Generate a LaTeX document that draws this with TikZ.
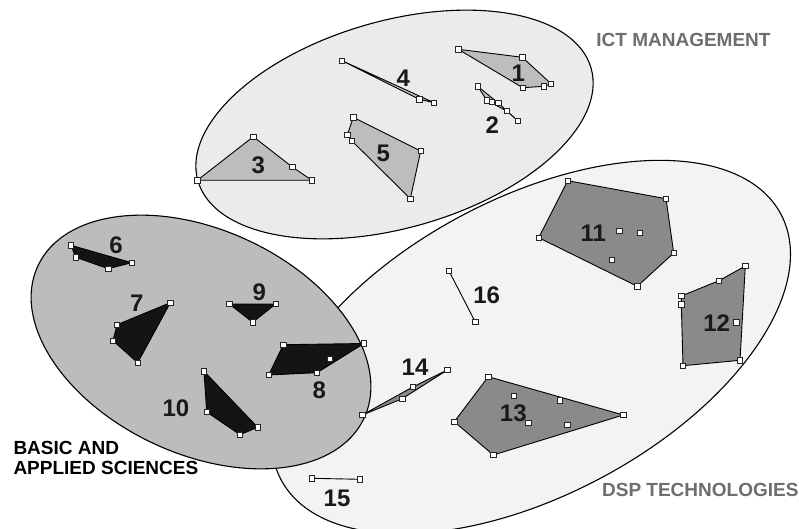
\documentclass[tikz,border=0pt]{standalone}
\usepackage{fontspec}
\setmainfont{Liberation Sans}
\definecolor{ictfill}{HTML}{EBEBEB}
\definecolor{dspfill}{HTML}{F3F3F3}
\definecolor{basfill}{HTML}{BBBCBE}
\definecolor{ictpoly}{HTML}{BDBDBD}
\definecolor{dsppoly}{HTML}{8A8A8A}
\definecolor{baspoly}{HTML}{141414}
\definecolor{capgray}{HTML}{6E6E6E}
\tikzset{
  region/.style={draw=black, line width=1.1pt},
  hull/.style={draw=black, line width=0.9pt, line join=round},
  vtx/.style={rectangle, draw=black!85, fill=white, line width=0.7pt,
              minimum size=5.5pt, inner sep=0pt},
  num/.style={font=\fontsize{24}{24}\selectfont\bfseries, inner sep=0pt, text=black!90},
  clustername/.style={font=\fontsize{19}{20.5}\selectfont\bfseries, inner sep=0pt, align=left}
}
\begin{document}
\begin{tikzpicture}[x=1pt, y=-1pt]
\path[use as bounding box] (0,0) rectangle (799,529);
\fill[white] (0,0) rectangle (799,529);
\clip (0,0) rectangle (799,529);

% ---- three clusters ----
\draw[region, fill=dspfill, rotate around={28:(531,347)}]
  (531,347) ellipse [x radius=283pt, y radius=148.5pt];
\draw[region, fill=ictfill, rotate around={16:(394.5,124.5)}]
  (394.5,124.5) ellipse [x radius=204.5pt, y radius=103.5pt];
\draw[region, fill=basfill, rotate around={-25:(201,342)}]
  (201,342) ellipse [x radius=180pt, y radius=112pt];

% ---- vertices ----
\coordinate (p1a) at (458.3,49.3);  \coordinate (p1b) at (522.3,57.3);
\coordinate (p1c) at (551,83.7);    \coordinate (p1d) at (544,86.3);
\coordinate (p1e) at (522.7,87.7);
\coordinate (p2a) at (477.7,86.3);  \coordinate (p2b) at (486.7,100.3);
\coordinate (p2c) at (491.7,101.7); \coordinate (p2d) at (498.3,103);
\coordinate (p2e) at (506.7,111);   \coordinate (p2f) at (517.7,120.7);
\coordinate (p3a) at (197.3,180.3); \coordinate (p3b) at (253.3,136.7);
\coordinate (p3c) at (292.3,167);   \coordinate (p3d) at (312,180.3);
\coordinate (p4a) at (342,60.7);    \coordinate (p4b) at (419.3,99.3);
\coordinate (p4c) at (434,102.7);
\coordinate (p5a) at (353.3,117.3); \coordinate (p5b) at (420.7,151);
\coordinate (p5c) at (410.3,198.7); \coordinate (p5d) at (352,141);
\coordinate (p5e) at (347.3,135);
\coordinate (p6a) at (71,245.3);    \coordinate (p6b) at (131.7,262.7);
\coordinate (p6c) at (108.3,268.7); \coordinate (p6d) at (75.7,257.3);
\coordinate (p7a) at (170.3,302.7); \coordinate (p7b) at (137.7,362.7);
\coordinate (p7c) at (113,340.7);   \coordinate (p7d) at (117,324.7);
\coordinate (p8a) at (283.3,344.7); \coordinate (p8b) at (364,343.5);
\coordinate (p8c) at (317,372.7);   \coordinate (p8d) at (268.7,375);
\coordinate (p8e) at (330,359);
\coordinate (p9a) at (229.3,304);   \coordinate (p9b) at (275.7,304);
\coordinate (p9c) at (252.7,322.3);
\coordinate (p10a) at (204,371.3);  \coordinate (p10b) at (257.7,427.3);
\coordinate (p10c) at (240,434.7);  \coordinate (p10d) at (206.7,412);
\coordinate (p11a) at (567.7,180.7); \coordinate (p11b) at (666,198.7);
\coordinate (p11c) at (673.7,253);   \coordinate (p11d) at (637.3,286.3);
\coordinate (p11e) at (538.7,237.7); \coordinate (p11f) at (619.3,231);
\coordinate (p11g) at (640,232.7);   \coordinate (p11h) at (612,260);
\coordinate (p12a) at (745.3,266);   \coordinate (p12b) at (740,360.3);
\coordinate (p12c) at (683,365.7);   \coordinate (p12d) at (681.3,304.3);
\coordinate (p12e) at (681.3,296);   \coordinate (p12f) at (719,280.7);
\coordinate (p12g) at (736.3,322.3);
\coordinate (p13a) at (488.3,376.7); \coordinate (p13b) at (623.3,415);
\coordinate (p13c) at (493.3,455);   \coordinate (p13d) at (454.3,421.7);
\coordinate (p13e) at (513.7,395.7); \coordinate (p13f) at (559.7,400.3);
\coordinate (p13g) at (528.3,423);   \coordinate (p13h) at (567.3,424.7);
\coordinate (p14a) at (362.3,415);   \coordinate (p14b) at (412.7,387);
\coordinate (p14c) at (447.3,370);   \coordinate (p14d) at (402.3,398.7);
\coordinate (p15a) at (311.7,478.3); \coordinate (p15b) at (360,479.3);
\coordinate (p16a) at (449,271);     \coordinate (p16b) at (475.3,322);

% ---- convex hulls ----
\filldraw[hull, fill=ictpoly] (p1a) -- (p1b) -- (p1c) -- (p1d) -- (p1e) -- cycle;
\filldraw[hull, fill=ictpoly] (p2a) -- (p2d) -- (p2f) -- (p2e) -- (p2b) -- cycle;
\filldraw[hull, fill=ictpoly] (p3a) -- (p3b) -- (p3c) -- (p3d) -- cycle;
\filldraw[hull, fill=ictpoly] (p4a) -- (p4c) -- (p4b) -- cycle;
\filldraw[hull, fill=ictpoly] (p5a) -- (p5b) -- (p5c) -- (p5d) -- (p5e) -- cycle;
\filldraw[hull, fill=baspoly] (p6a) -- (p6b) -- (p6c) -- (p6d) -- cycle;
\filldraw[hull, fill=baspoly] (p7a) -- (p7b) -- (p7c) -- (p7d) -- cycle;
\filldraw[hull, fill=baspoly] (p8a) -- (p8b) -- (p8c) -- (p8d) -- cycle;
\filldraw[hull, fill=baspoly] (p9a) -- (p9b) -- (p9c) -- cycle;
\filldraw[hull, fill=baspoly] (p10a) -- (p10b) -- (p10c) -- (p10d) -- cycle;
\filldraw[hull, fill=dsppoly] (p11a) -- (p11b) -- (p11c) -- (p11d) -- (p11e) -- cycle;
\filldraw[hull, fill=dsppoly] (p12a) -- (p12b) -- (p12c) -- (p12d) -- (p12e) -- (p12f) -- cycle;
\filldraw[hull, fill=dsppoly] (p13a) -- (p13b) -- (p13c) -- (p13d) -- cycle;
\filldraw[hull, fill=dsppoly] (p14a) -- (p14b) -- (p14c) -- (p14d) -- cycle;
\draw[hull] (p15a) -- (p15b);
\draw[hull] (p16a) -- (p16b);

% ---- vertex markers ----
\foreach \p in {p1a,p1b,p1c,p1d,p1e,p2a,p2b,p2c,p2d,p2e,p2f,
                p3a,p3b,p3c,p3d,p4a,p4b,p4c,p5a,p5b,p5c,p5d,p5e,
                p6a,p6b,p6c,p6d,p7a,p7b,p7c,p7d,p8a,p8b,p8c,p8d,p8e,
                p9a,p9b,p9c,p10a,p10b,p10c,p10d,
                p11a,p11b,p11c,p11d,p11e,p11f,p11g,p11h,
                p12a,p12b,p12c,p12d,p12e,p12f,p12g,
                p13a,p13b,p13c,p13d,p13e,p13f,p13g,p13h,
                p14a,p14b,p14c,p14d,p15a,p15b,p16a,p16b}
  \node[vtx] (v\p) at (\p) {};

% ---- cluster numbers ----
\node[num] (l1)  at (518.3,73.3)  {1};
\node[num] (l2)  at (492.3,125)   {2};
\node[num] (l3)  at (258.3,165)   {3};
\node[num] (l4)  at (403.3,78.3)  {4};
\node[num] (l5)  at (383.3,153.3) {5};
\node[num] (l6)  at (116,245)     {6};
\node[num] (l7)  at (136.7,303.3) {7};
\node[num] (l8)  at (319.3,390)   {8};
\node[num] (l9)  at (259.3,292.3) {9};
\node[num] (l10) at (176,408.7)   {10};
\node[num] (l11) at (593.3,233.3) {11};
\node[num] (l12) at (716.7,323.3) {12};
\node[num] (l13) at (513.3,413.3) {13};
\node[num] (l14) at (415,367.3)   {14};
\node[num] (l15) at (337,498)     {15};
\node[num] (l16) at (486.7,295)   {16};

% ---- cluster names ----
\node[clustername, text=capgray] (ict) at (683.5,40) {ICT MANAGEMENT};
\node[clustername, text=capgray] (dsp) at (700.3,490) {DSP TECHNOLOGIES};
\node[clustername, anchor=north west] (bas) at (13.3,440.7) {BASIC AND\\APPLIED SCIENCES};
\end{tikzpicture}
\end{document}
